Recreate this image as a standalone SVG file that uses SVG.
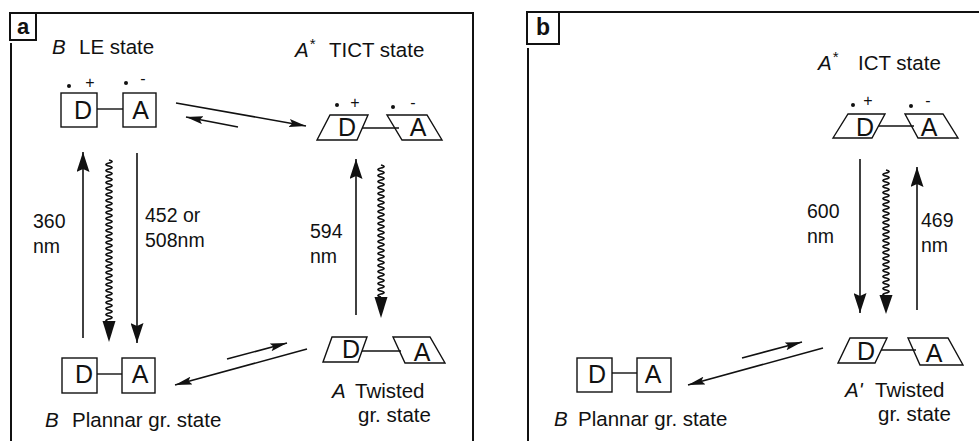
<svg xmlns="http://www.w3.org/2000/svg" width="979" height="441" viewBox="0 0 979 441">
<style>
text{font-family:"Liberation Sans",Arial,sans-serif;fill:#111}
.lbl{font-size:20.5px}
.num{font-size:19.5px}
.it{font-style:italic}
.big{font-size:25px;text-anchor:middle}
.chg{font-size:16px;text-anchor:middle}
.tag{font-size:22px;font-weight:bold;text-anchor:middle}
.frame{fill:none;stroke:#111;stroke-width:2}
.sh{fill:#fff;stroke:#111;stroke-width:1.4}
.bond{stroke:#111;stroke-width:1.4}
.ar{fill:none;stroke:#111;stroke-width:1.6}
.wv{fill:none;stroke:#111;stroke-width:1.8}
.hd{fill:#111}
.dot{fill:#111}
</style>
<defs>
<marker id="ah" markerUnits="userSpaceOnUse" markerWidth="20" markerHeight="13" refX="20" refY="6.5" orient="auto" viewBox="0 0 20 13"><path d="M0,0 L20,6.5 L0,13 L3,6.5 z" fill="#111"/></marker>
<marker id="ah2" markerUnits="userSpaceOnUse" markerWidth="17" markerHeight="8" refX="17" refY="4" orient="auto" viewBox="0 0 17 8"><path d="M0,0 L17,4 L0,8 L3,4 z" fill="#111"/></marker>
</defs>

<g id="panel-a-frame">
<path class="frame" d="M10,13 H473 V441 M11,43 V441"/>
<rect class="frame" x="10" y="13" width="26" height="27"/>
<text class="tag" x="23" y="34">a</text>
</g>
<g id="panel-b-frame">
<path class="frame" d="M527,12 H979 M528,48 V441"/>
<rect class="frame" x="527" y="12" width="32" height="32"/>
<text class="tag" x="543" y="35" style="font-size:23px">b</text>
</g>

<g id="a-LE-state">
<text class="lbl" x="52" y="54"><tspan class="it">B</tspan></text>
<text class="lbl" x="79" y="54">LE state</text>
<rect class="sh" x="61" y="93" width="36" height="34"/>
<rect class="sh" x="123" y="93" width="33" height="34"/>
<line class="bond" x1="97" y1="109" x2="123" y2="109"/>
<text class="big" x="83" y="119">D</text>
<text class="big" x="140.5" y="119">A</text>
<circle class="dot" cx="69" cy="86" r="2"/>
<text class="chg" x="90" y="88">+</text>
<circle class="dot" cx="126" cy="83" r="2"/>
<text class="chg" x="143" y="84">-</text>
</g>

<g id="a-TICT-state">
<text class="lbl" x="295" y="57"><tspan class="it">A</tspan><tspan dx="1" dy="-8" style="font-size:15px">*</tspan></text>
<text class="lbl" x="329" y="57">TICT state</text>
<line class="bond" x1="360" y1="128" x2="399" y2="128"/>
<polygon class="sh" points="317,140 330,115 368,115 357,140"/>
<polygon class="sh" points="387,115 427,115 442,140 402,140" style="fill:none"/>
<text class="big" x="347" y="136">D</text>
<text class="big" x="418" y="136">A</text>
<circle class="dot" cx="337" cy="105" r="2"/>
<text class="chg" x="355" y="108">+</text>
<circle class="dot" cx="393" cy="107" r="2"/>
<text class="chg" x="413" y="108">-</text>
</g>

<g id="a-planar-ground">
<rect class="sh" x="62" y="358" width="35" height="35"/>
<rect class="sh" x="122" y="358" width="33" height="35"/>
<line class="bond" x1="97" y1="374" x2="122" y2="374"/>
<text class="big" x="84" y="383">D</text>
<text class="big" x="140" y="383">A</text>
<text class="lbl" x="45" y="427"><tspan class="it">B</tspan></text>
<text class="lbl" x="72" y="427">Plannar gr. state</text>
</g>

<g id="a-twisted-ground">
<line class="bond" x1="362" y1="351" x2="401" y2="351"/>
<polygon class="sh" points="323,362 332,337 367,337 358,362"/>
<polygon class="sh" points="393,337 430,337 445,363 405,363" style="fill:none"/>
<text class="big" x="351" y="358">D</text>
<text class="big" x="422" y="361">A</text>
<text class="lbl" x="332" y="398"><tspan class="it">A</tspan></text>
<text class="lbl" x="355" y="398">Twisted</text>
<text class="lbl" x="358" y="422">gr. state</text>
</g>

<g id="b-ICT-state">
<text class="lbl" x="818" y="70"><tspan class="it">A</tspan><tspan dx="1" dy="-8" style="font-size:15px">*</tspan></text>
<text class="lbl" x="858" y="70">ICT state</text>
<line class="bond" x1="876" y1="126" x2="914" y2="126"/>
<polygon class="sh" points="833,138 848,114 885,114 872,138"/>
<polygon class="sh" points="905,114 943,114 958,138 918,138" style="fill:none"/>
<text class="big" x="865" y="136">D</text>
<text class="big" x="929" y="136">A</text>
<circle class="dot" cx="853" cy="105" r="2"/>
<text class="chg" x="868" y="106">+</text>
<circle class="dot" cx="911" cy="106" r="2"/>
<text class="chg" x="928" y="106">-</text>
</g>

<g id="b-planar-ground">
<rect class="sh" x="577" y="358" width="35" height="34"/>
<rect class="sh" x="637" y="358" width="34" height="34"/>
<line class="bond" x1="612" y1="373" x2="637" y2="373"/>
<text class="big" x="597" y="383">D</text>
<text class="big" x="653" y="383">A</text>
<text class="lbl" x="554" y="426"><tspan class="it">B</tspan></text>
<text class="lbl" x="578" y="426">Plannar gr. state</text>
</g>

<g id="b-twisted-ground">
<line class="bond" x1="880" y1="350" x2="916" y2="350"/>
<polygon class="sh" points="838,363 850,338 887,338 875,363"/>
<polygon class="sh" points="908,338 948,338 963,365 920,365" style="fill:none"/>
<text class="big" x="866" y="360">D</text>
<text class="big" x="934" y="362">A</text>
<text class="lbl" x="845" y="397"><tspan class="it">A'</tspan></text>
<text class="lbl" x="875" y="397">Twisted</text>
<text class="lbl" x="878" y="421">gr. state</text>
</g>

<g id="connectors">
<line class="ar" x1="176" y1="103" x2="306" y2="126" marker-end="url(#ah2)"/>
<line class="ar" x1="238" y1="127" x2="186" y2="117" marker-end="url(#ah2)"/>
<line class="ar" x1="227" y1="359" x2="287" y2="343" marker-end="url(#ah2)"/>
<line class="ar" x1="307" y1="349" x2="175" y2="385" marker-end="url(#ah2)"/>
<line class="ar" x1="83" y1="338" x2="83" y2="152" marker-end="url(#ah)"/>
<path class="wv" d="M109,160 q6,1.5 0,3 q-6,1.5 0,3 q6,1.5 0,3 q-6,1.5 0,3 q6,1.5 0,3 q-6,1.5 0,3 q6,1.5 0,3 q-6,1.5 0,3 q6,1.5 0,3 q-6,1.5 0,3 q6,1.5 0,3 q-6,1.5 0,3 q6,1.5 0,3 q-6,1.5 0,3 q6,1.5 0,3 q-6,1.5 0,3 q6,1.5 0,3 q-6,1.5 0,3 q6,1.5 0,3 q-6,1.5 0,3 q6,1.5 0,3 q-6,1.5 0,3 q6,1.5 0,3 q-6,1.5 0,3 q6,1.5 0,3 q-6,1.5 0,3 q6,1.5 0,3 q-6,1.5 0,3 q6,1.5 0,3 q-6,1.5 0,3 q6,1.5 0,3 q-6,1.5 0,3 q6,1.5 0,3 q-6,1.5 0,3 q6,1.5 0,3 q-6,1.5 0,3 q6,1.5 0,3 q-6,1.5 0,3 q6,1.5 0,3 q-6,1.5 0,3 q6,1.5 0,3 q-6,1.5 0,3 q6,1.5 0,3 q-6,1.5 0,3 q6,1.5 0,3 q-6,1.5 0,3 q6,1.5 0,3 q-6,1.5 0,3 q6,1.5 0,3 q-6,1.5 0,3 q6,1.5 0,3 q-6,1.5 0,3 q6,1.5 0,3 q-6,1.5 0,3"/>
<polygon class="hd" points="102.5,321 115.5,321 109,342"/>
<line class="ar" x1="137" y1="153" x2="137" y2="343" marker-end="url(#ah)"/>
<line class="ar" x1="356" y1="315" x2="356" y2="159" marker-end="url(#ah)"/>
<path class="wv" d="M381,165 q6,1.5 0,3 q-6,1.5 0,3 q6,1.5 0,3 q-6,1.5 0,3 q6,1.5 0,3 q-6,1.5 0,3 q6,1.5 0,3 q-6,1.5 0,3 q6,1.5 0,3 q-6,1.5 0,3 q6,1.5 0,3 q-6,1.5 0,3 q6,1.5 0,3 q-6,1.5 0,3 q6,1.5 0,3 q-6,1.5 0,3 q6,1.5 0,3 q-6,1.5 0,3 q6,1.5 0,3 q-6,1.5 0,3 q6,1.5 0,3 q-6,1.5 0,3 q6,1.5 0,3 q-6,1.5 0,3 q6,1.5 0,3 q-6,1.5 0,3 q6,1.5 0,3 q-6,1.5 0,3 q6,1.5 0,3 q-6,1.5 0,3 q6,1.5 0,3 q-6,1.5 0,3 q6,1.5 0,3 q-6,1.5 0,3 q6,1.5 0,3 q-6,1.5 0,3 q6,1.5 0,3 q-6,1.5 0,3 q6,1.5 0,3 q-6,1.5 0,3 q6,1.5 0,3 q-6,1.5 0,3 q6,1.5 0,3 q-6,1.5 0,3"/>
<polygon class="hd" points="374.5,297 387.5,297 381,318"/>
<line class="ar" x1="742" y1="358" x2="802" y2="342" marker-end="url(#ah2)"/>
<line class="ar" x1="823" y1="348" x2="688" y2="385" marker-end="url(#ah2)"/>
<line class="ar" x1="860" y1="159" x2="860" y2="313" marker-end="url(#ah)"/>
<path class="wv" d="M886,170 q6,1.5 0,3 q-6,1.5 0,3 q6,1.5 0,3 q-6,1.5 0,3 q6,1.5 0,3 q-6,1.5 0,3 q6,1.5 0,3 q-6,1.5 0,3 q6,1.5 0,3 q-6,1.5 0,3 q6,1.5 0,3 q-6,1.5 0,3 q6,1.5 0,3 q-6,1.5 0,3 q6,1.5 0,3 q-6,1.5 0,3 q6,1.5 0,3 q-6,1.5 0,3 q6,1.5 0,3 q-6,1.5 0,3 q6,1.5 0,3 q-6,1.5 0,3 q6,1.5 0,3 q-6,1.5 0,3 q6,1.5 0,3 q-6,1.5 0,3 q6,1.5 0,3 q-6,1.5 0,3 q6,1.5 0,3 q-6,1.5 0,3 q6,1.5 0,3 q-6,1.5 0,3 q6,1.5 0,3 q-6,1.5 0,3 q6,1.5 0,3 q-6,1.5 0,3 q6,1.5 0,3 q-6,1.5 0,3 q6,1.5 0,3 q-6,1.5 0,3 q6,1.5 0,3 q-6,1.5 0,3"/>
<polygon class="hd" points="879.5,295 892.5,295 886,314"/>
<line class="ar" x1="917" y1="310" x2="917" y2="167" marker-end="url(#ah)"/>
</g>

<g id="transition-labels">
<text class="num" x="33" y="228">360</text>
<text class="num" x="33" y="253">nm</text>
<text class="num" x="145" y="222">452 or</text>
<text class="num" x="145" y="247">508nm</text>
<text class="num" x="310" y="238">594</text>
<text class="num" x="310" y="263">nm</text>
<text class="num" x="807" y="218">600</text>
<text class="num" x="807" y="243">nm</text>
<text class="num" x="921" y="227">469</text>
<text class="num" x="921" y="252">nm</text>
</g>
</svg>
